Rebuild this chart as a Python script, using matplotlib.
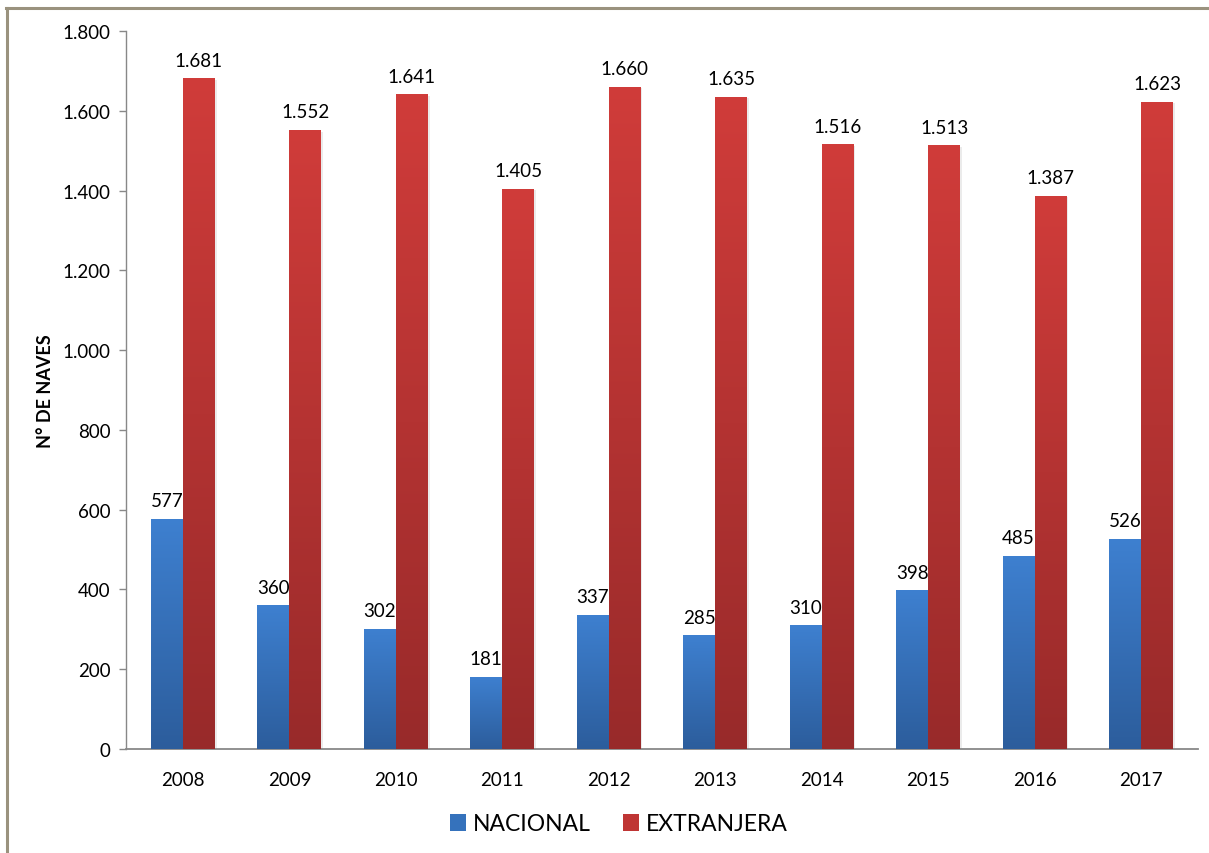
import numpy as np
import matplotlib
matplotlib.use("Agg")
import matplotlib.pyplot as plt
from matplotlib.patches import Patch
from matplotlib.lines import Line2D
from matplotlib.ticker import FuncFormatter
from matplotlib.colors import LinearSegmentedColormap

years = ["2008", "2009", "2010", "2011", "2012", "2013", "2014", "2015", "2016", "2017"]
nacional = [577, 360, 302, 181, 337, 285, 310, 398, 485, 526]
extranjera = [1681, 1552, 1641, 1405, 1660, 1635, 1516, 1513, 1387, 1623]
series_names = ["NACIONAL", "EXTRANJERA"]

plt.rcParams['font.family'] = ['Lato', 'DejaVu Sans']

def fmt(v):
    return f"{int(v):,}".replace(",", ".")

fig = plt.figure(figsize=(12.09, 8.54), dpi=100)
ax = fig.add_axes([126/1209, 104/854, (1198-126)/1209, (750-32)/854])

x = np.arange(len(years))
w = 0.3
blue_top, blue_bot = "#3E80D0", "#2C5D9C"
red_top, red_bot = "#D03C3A", "#982A2A"

bars_n = ax.bar(x - w/2, nacional, w, color=blue_top, zorder=3)
bars_e = ax.bar(x + w/2, extranjera, w, color=red_top, zorder=3)

def gradient(bars, top, bot):
    cmap = LinearSegmentedColormap.from_list("g", [bot, top])
    grad = np.linspace(0, 1, 256).reshape(-1, 1)
    for b in bars:
        x0, y0 = b.get_x(), b.get_y()
        bw, bh = b.get_width(), b.get_height()
        # soft shadow
        ax.add_patch(plt.Rectangle((x0 + 0.012, y0), bw + 0.004, bh - 4, color="#000000",
                                   alpha=0.08, zorder=2, lw=0))
        im = ax.imshow(grad, cmap=cmap, origin="lower", aspect="auto",
                       extent=[x0, x0 + bw, y0, y0 + bh], zorder=3.5)
        im.set_clip_path(b)

gradient(bars_n, blue_top, blue_bot)
gradient(bars_e, red_top, red_bot)

for bars, vals in ((bars_n, nacional), (bars_e, extranjera)):
    for b, v in zip(bars, vals):
        ax.annotate(fmt(v), (b.get_x() + b.get_width()/2, v), xytext=(0, 7),
                    textcoords="offset points", ha="center", va="bottom",
                    fontsize=13.5, zorder=5)

ax.set_xlim(-0.535, len(years) - 1 + 0.535)
ax.set_ylim(0, 1800)
ax.set_yticks(np.arange(0, 1801, 200))
ax.yaxis.set_major_formatter(FuncFormatter(lambda v, p: fmt(v)))
ax.set_xticks(x)
ax.set_xticklabels(years)
ax.tick_params(axis="x", length=0, pad=16, labelsize=13.5)
ax.tick_params(axis="y", length=5, color="#888888", width=1, pad=6, labelsize=13.5)

for s in ["top", "right"]:
    ax.spines[s].set_visible(False)
ax.spines["left"].set_color("#888888")
ax.spines["bottom"].set_color("#888888")
ax.spines["left"].set_linewidth(1)
ax.spines["bottom"].set_linewidth(1.3)

ax.set_ylabel("N° DE NAVES", fontsize=13, fontweight="bold", labelpad=6)

handles = [Patch(facecolor="#3572BC", edgecolor="none"),
           Patch(facecolor="#BF3534", edgecolor="none")]
fig.legend(handles, series_names, loc="center", bbox_to_anchor=(619/1209, 29/854), ncol=2,
           frameon=False, fontsize=16.5, handlelength=0.7, handleheight=0.7,
           handletextpad=0.3, columnspacing=1.4)

# outer border (left and top visible)
fig.add_artist(Line2D([7/1209, 7/1209], [0, 1 - 9/854], transform=fig.transFigure,
                      color="#9A927E", lw=2.2))
fig.add_artist(Line2D([6/1209, 1], [1 - 9/854, 1 - 9/854], transform=fig.transFigure,
                      color="#9A927E", lw=2.2))

fig.savefig("out.png", dpi=100)
